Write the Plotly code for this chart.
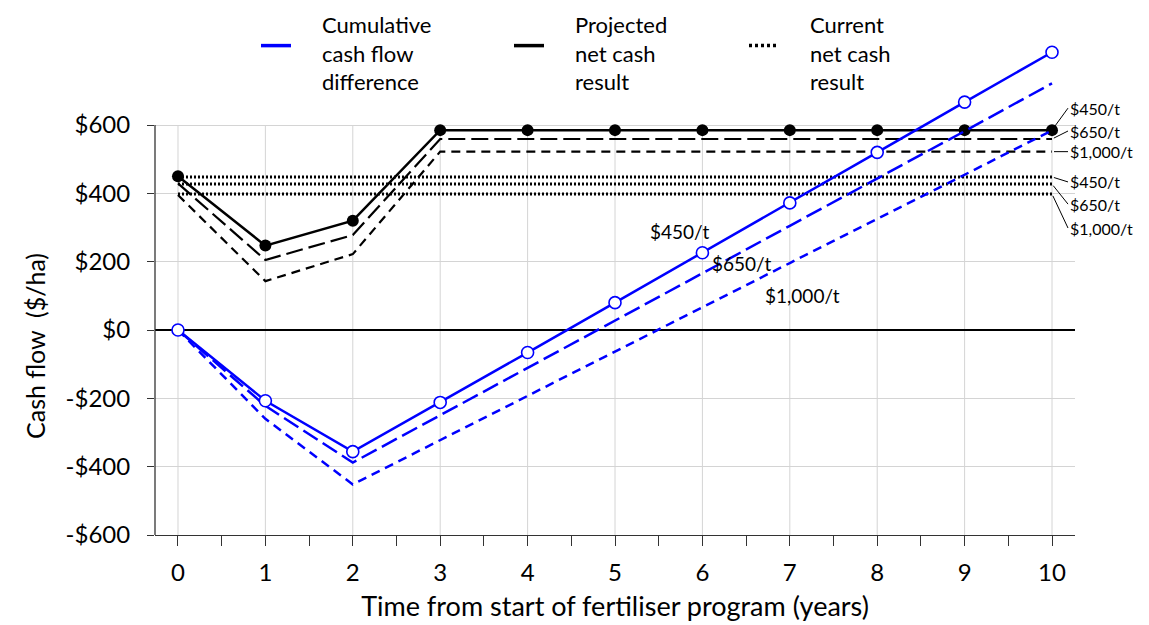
import plotly.graph_objects as go

# 数据
years = list(range(11))
price_labels = ["$450/t", "$650/t", "$1,000/t"]

cum_450 = [0, -207, -356, -212, -66, 80, 226, 372, 520, 667, 813]
cum_650 = [0, -222, -388, -250, -111, 28, 166, 305, 443, 582, 722]
cum_1000 = [0, -260, -452, -322, -193, -63, 66, 196, 325, 455, 584]

proj_450 = [450, 247, 320, 585, 585, 585, 585, 585, 585, 585, 585]
proj_650 = [429, 205, 278, 559, 559, 559, 559, 559, 559, 559, 559]
proj_1000 = [395, 143, 222, 522, 522, 522, 522, 522, 522, 522, 522]

current_net = [448, 427, 398]

y_ticks = [-600, -400, -200, 0, 200, 400, 600]
y_ticktext = ["-$600", "-$400", "-$200", "$0", "$200", "$400", "$600"]

legend_lines = [
    ["Cumulative", "cash flow", "difference"],
    ["Projected", "net cash", "result"],
    ["Current", "net cash", "result"],
]

FONT = "Lato"
BLUE = "#0000FF"
GRID = "#d4d4d4"
AXIS = "#333333"

# 页面像素 -> paper 坐标（绘图区 155..1075 x 43..535）
def px_x(px):
    return (px - 155) / 920


def px_y(px):
    return (535 - px) / 492


fig = go.Figure()

# 当前净现金（点线）
for v in current_net:
    fig.add_trace(go.Scatter(
        x=[years[0], years[-1]], y=[v, v], mode="lines",
        line=dict(color="black", width=3, dash="2px,2px"),
        showlegend=False, hoverinfo="skip"
    ))

# 预计净现金（黑线）
fig.add_trace(go.Scatter(x=years, y=proj_1000, mode="lines",
                         line=dict(color="black", width=2.2, dash="9px,6px"),
                         showlegend=False))
fig.add_trace(go.Scatter(x=years, y=proj_650, mode="lines",
                         line=dict(color="black", width=2.2, dash="17px,6px"),
                         showlegend=False))
fig.add_trace(go.Scatter(x=years, y=proj_450, mode="lines+markers",
                         line=dict(color="black", width=2.5),
                         marker=dict(color="black", size=12),
                         showlegend=False))

# 累计现金流差（蓝线）
fig.add_trace(go.Scatter(x=years, y=cum_1000, mode="lines",
                         line=dict(color=BLUE, width=2.5, dash="9px,6px"),
                         showlegend=False))
fig.add_trace(go.Scatter(x=years, y=cum_650, mode="lines",
                         line=dict(color=BLUE, width=2.5, dash="17px,6px"),
                         showlegend=False))
fig.add_trace(go.Scatter(x=years, y=cum_450, mode="lines+markers",
                         line=dict(color=BLUE, width=2.5),
                         marker=dict(color="white", size=12,
                                     line=dict(color=BLUE, width=1.6)),
                         showlegend=False))

# 图例符号（文字用注释放置）
legend_styles = [
    ("legend", dict(color=BLUE, width=3.5)),
    ("legend2", dict(color="black", width=3.5)),
    ("legend3", dict(color="black", width=3.5, dash="3px,3px")),
]
for lines, (lg, st) in zip(legend_lines, legend_styles):
    fig.add_trace(go.Scatter(x=[None], y=[None], mode="lines", line=st,
                             name=" ", legend=lg, hoverinfo="skip"))

legend_common = dict(
    xref="container", yref="container", yanchor="middle", xanchor="left",
    font=dict(family=FONT, size=14, color="black"),
    bgcolor="rgba(0,0,0,0)", itemwidth=30, valign="middle",
)
sym_y = 1 - 38 / 625

# 竖向网格线（只到 $600）
shapes = []
for yr in years:
    shapes.append(dict(type="line", xref="x", yref="y", x0=yr, x1=yr,
                       y0=y_ticks[0], y1=y_ticks[-1],
                       line=dict(color=GRID, width=1), layer="below"))
# y 轴线
shapes.append(dict(type="line", xref="paper", yref="y", x0=0, x1=0,
                   y0=y_ticks[0], y1=y_ticks[-1],
                   line=dict(color=AXIS, width=1.3)))

annotations = []
# 图例文字
legend_text_x = [320, 573, 808]
for lines, lx in zip(legend_lines, legend_text_x):
    annotations.append(dict(
        x=px_x(lx), y=px_y(9), xref="paper", yref="paper",
        text="<br>".join(lines), align="left",
        showarrow=False, xanchor="left", yanchor="top",
        font=dict(family=FONT, size=22, color="black")
    ))

# 右侧标签
end_vals = [proj_450[-1], proj_650[-1], proj_1000[-1]] + current_net
offsets = [-22, -8, 0, 5, 20, 34]
for lab, v, dy in zip(price_labels * 2, end_vals, offsets):
    annotations.append(dict(
        x=years[-1], y=v, xref="x", yref="y", text=lab,
        showarrow=True, arrowhead=0, arrowwidth=1, arrowcolor="black",
        ax=16, ay=dy, xanchor="left", yanchor="middle",
        font=dict(family=FONT, size=16, color="black"), standoff=2
    ))

# 蓝线标签
inline_pos = [(5.74, 287), (6.45, 196), (7.14, 102)]
for lab, (xx, yy) in zip(price_labels, inline_pos):
    annotations.append(dict(
        x=xx, y=yy, xref="x", yref="y", text=lab, showarrow=False,
        font=dict(family=FONT, size=19, color="black")
    ))

# y 轴标题
annotations.append(dict(
    x=px_x(35), y=px_y(346), xref="paper", yref="paper",
    text="Cash flow\u00a0\u00a0($/ha)", showarrow=False, textangle=-90,
    xanchor="center", yanchor="middle",
    font=dict(family=FONT, size=25, color="black")
))

fig.update_layout(
    width=1149, height=625,
    margin=dict(l=147, r=82, t=35, b=98, autoexpand=False),
    plot_bgcolor="white", paper_bgcolor="white",
    font=dict(family=FONT, size=24, color="black"),
    shapes=shapes, annotations=annotations,
    legend=dict(x=248 / 1149, y=sym_y, **legend_common),
    legend2=dict(x=501 / 1149, y=sym_y, **legend_common),
    legend3=dict(x=736 / 1149, y=sym_y, **legend_common),
    xaxis=dict(
        range=[-0.263, 10.263], tickvals=years, showgrid=False,
        showline=True, linecolor=AXIS, linewidth=1.3,
        ticks="outside", ticklen=10, tickcolor=AXIS,
        minor=dict(dtick=0.5, tick0=0, ticks="outside", ticklen=10,
                   tickcolor=AXIS, showgrid=False),
        zeroline=False, ticklabelstandoff=6,
        tickfont=dict(family=FONT, size=24),
        title=dict(text="Time from start of fertiliser program (years)",
                   font=dict(family=FONT, size=27), standoff=12),
    ),
    yaxis=dict(
        range=[-600, 840], tickvals=y_ticks, ticktext=y_ticktext,
        showgrid=True, gridcolor=GRID, gridwidth=1,
        showline=False, ticks="outside", ticklen=7, tickcolor=AXIS,
        zeroline=True, zerolinecolor="black", zerolinewidth=1.5,
        ticklabelstandoff=12,
        tickfont=dict(family=FONT, size=24),
    ),
)

fig.write_html("out.html")
